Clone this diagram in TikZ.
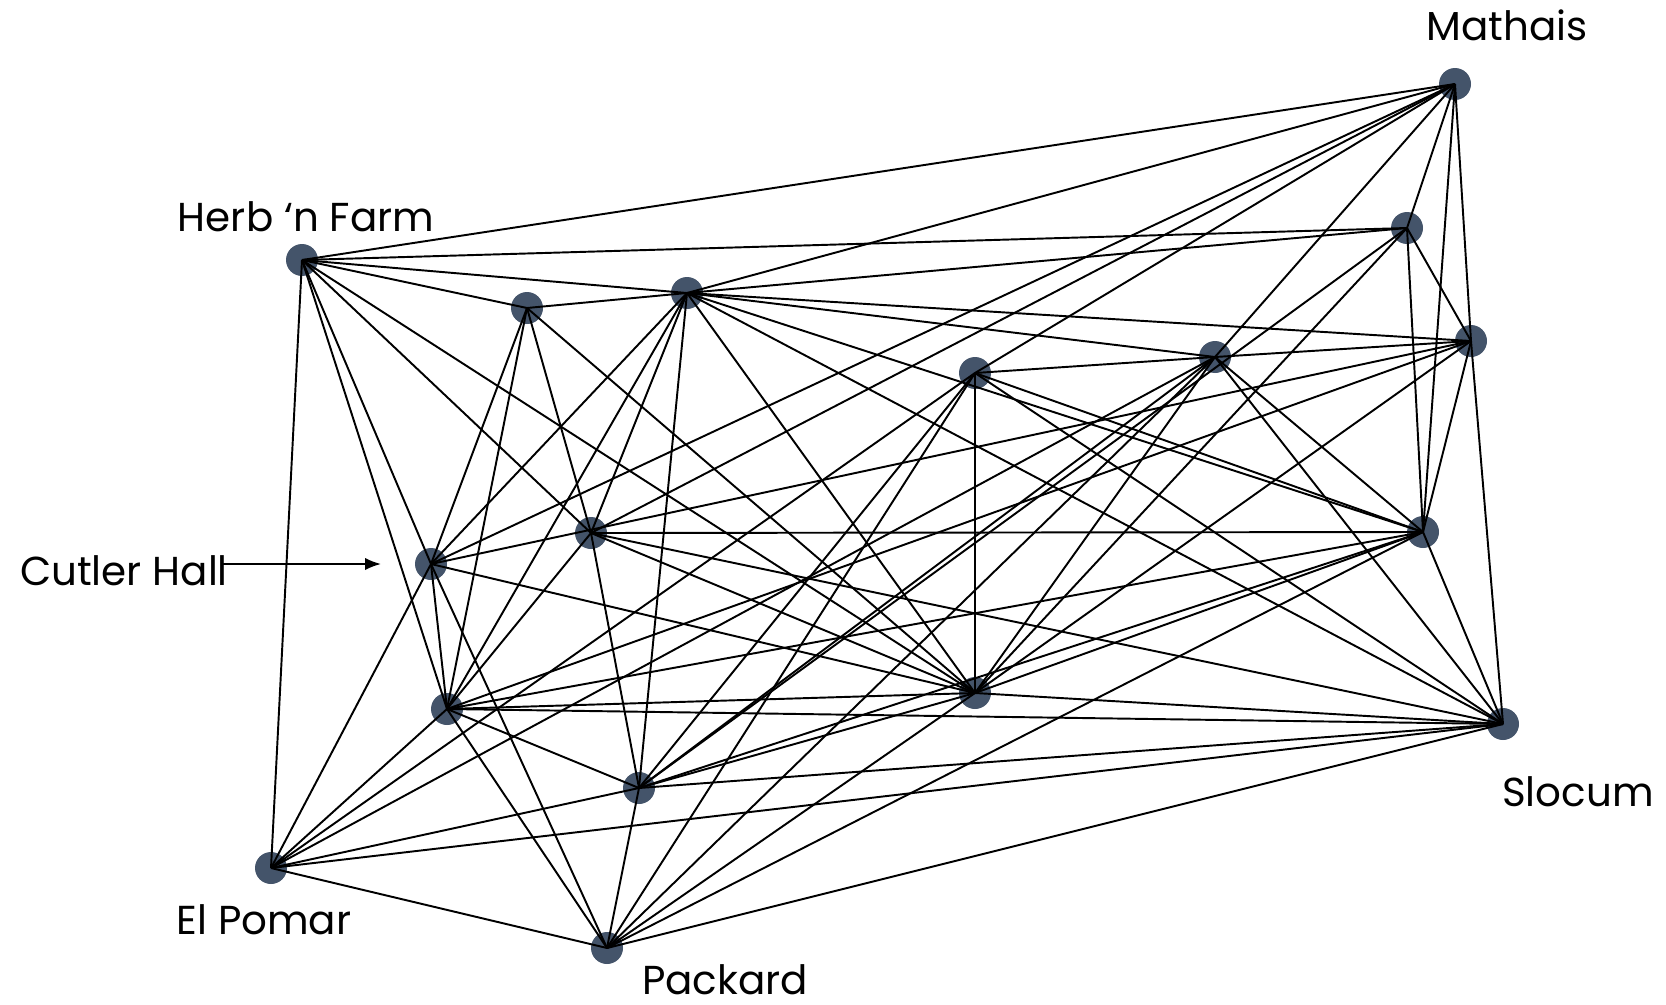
\documentclass[tikz,border=0pt]{standalone}
\usepackage{fontspec}
\setmainfont{Poppins}
\usetikzlibrary{arrows.meta}
\definecolor{dotfill}{RGB}{68,84,106}
\tikzset{
  campus/.style={circle,fill=dotfill,inner sep=0pt,minimum size=0.64cm},
  link/.style={draw=black,line width=1.1pt},
  place/.style={font=\fontsize{23}{27}\selectfont,inner sep=0pt,anchor=base}
}
\begin{document}
\begin{tikzpicture}[x=0.02cm,y=-0.02cm]
\useasboundingbox (0,0) rectangle (1666,1004);
% buildings
\node[campus] (A) at (302,260) {};
\node[campus] (B) at (527,308) {};
\node[campus] (C) at (687,293) {};
\node[campus] (D) at (1455,84) {};
\node[campus] (E) at (1407,228) {};
\node[campus] (F) at (1471,341) {};
\node[campus] (G) at (1215,357) {};
\node[campus] (H) at (975,373) {};
\node[campus] (I) at (591,533) {};
\node[campus] (J) at (431,564) {};
\node[campus] (K) at (1423,532) {};
\node[campus] (L) at (447,709) {};
\node[campus] (M) at (975,693) {};
\node[campus] (N) at (1503,724) {};
\node[campus] (O) at (639,788) {};
\node[campus] (P) at (271,868) {};
\node[campus] (Q) at (607,948) {};
% paths between buildings
\foreach \s/\t in {A/B,A/C,A/D,A/E,A/I,A/J,A/L,A/M,A/P,
  B/C,B/I,B/J,B/L,B/M,
  C/D,C/E,C/F,C/G,C/I,C/J,C/K,C/L,C/M,C/N,C/O,
  D/E,D/F,D/G,D/H,D/I,D/J,D/K,
  E/F,E/K,E/M,E/O,
  F/G,F/J,F/K,F/L,F/M,F/N,
  G/H,G/K,G/M,G/N,G/O,G/P,G/Q,
  H/K,H/M,H/N,H/O,H/Q,H/P,
  I/K,I/M,I/N,I/O,I/L,
  J/L,J/M,J/Q,J/P,
  K/N,K/O,K/M,K/L,K/Q,
  L/M,L/N,L/O,L/Q,L/P,
  M/N,M/O,M/Q,
  N/O,N/P,N/Q,
  O/P,O/Q,
  P/Q}
  \draw[link] (\s.center) -- (\t.center);
% labels
\node[place] (tD) at (1507,40) {Mathais};
\node[place] (tA) at (306,231) {Herb ‘n Farm};
\node[place] (tJ) at (124,585) {Cutler Hall};
\node[place] (tP) at (264,934) {El Pomar};
\node[place] (tQ) at (725,994) {Packard};
\node[place] (tN) at (1578,806) {Slocum};
\coordinate (cutlerTip) at (381,564);
\draw[line width=1.1pt,-{Latex[length=9pt,width=7pt]}] (222,564) -- (cutlerTip);
\end{tikzpicture}
\end{document}
